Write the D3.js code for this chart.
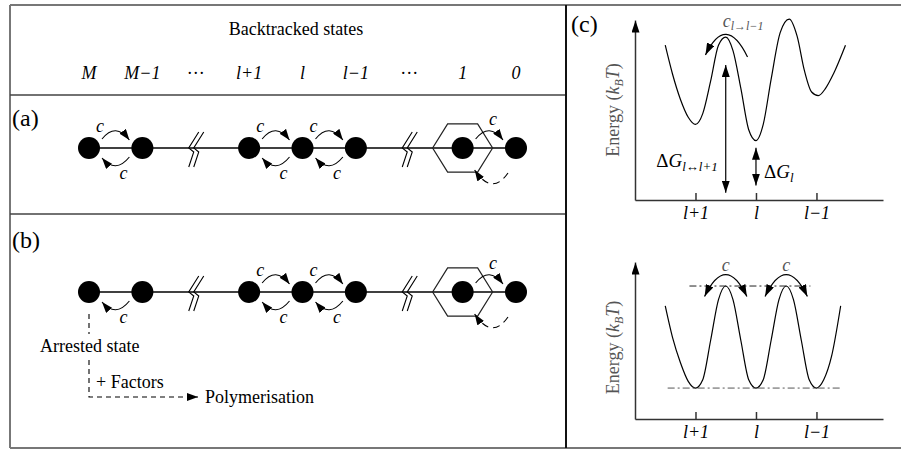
<!DOCTYPE html>
<html>
<head>
<meta charset="utf-8">
<script src="https://cdn.jsdelivr.net/npm/d3@7"></script>
<style>
  body { margin: 0; background: #fff; }
  svg { display: block; font-family: "Liberation Serif", "Times New Roman", serif; }
</style>
</head>
<body>
<div id="fig"></div>
<script>
// ---- left panel: backtracked states ----
const stateKeys = ['M', 'M-1', 'gap1', 'l+1', 'l', 'l-1', 'gap2', '1', '0'];
const stateLabels = ['M', 'M\u22121', '\u00b7\u00b7\u00b7', 'l+1', 'l', 'l\u22121', '\u00b7\u00b7\u00b7', '1', '0'];
const nodeStates = ['M', 'M-1', 'l+1', 'l', 'l-1', '1', '0'];
const breakStates = ['gap1', 'gap2'];

// transitions per row: fwd = arrow over the top, back = arrow underneath, reset = dashed return
const rowA = [
  { from: 'M', to: 'M-1', fwd: true, back: true },
  { from: 'l+1', to: 'l', fwd: true, back: true },
  { from: 'l', to: 'l-1', fwd: true, back: true },
  { from: '1', to: '0', fwd: true, back: false, reset: true }
];
const rowB = [
  { from: 'M', to: 'M-1', fwd: false, back: true },
  { from: 'l+1', to: 'l', fwd: true, back: true },
  { from: 'l', to: 'l-1', fwd: true, back: true },
  { from: '1', to: '0', fwd: true, back: false, reset: true }
];

// ---- right panel: energy landscapes ----
const tickCoords = [0, 1, 2];
const tickLabels = ['l+1', 'l', 'l\u22121'];

const coordTop = [-0.5, -0.38, -0.25, -0.12, 0, 0.12, 0.25, 0.38, 0.5, 0.62, 0.75, 0.88, 1,
  1.12, 1.25, 1.4, 1.55, 1.68, 1.8, 1.92, 2.03, 2.15, 2.28, 2.48];
const energyTop = [8.6, 7.0, 5.6, 4.6, 4.2, 4.8, 6.6, 8.6, 9.05, 8.3, 6.2, 3.9, 3.3,
  4.2, 6.7, 9.3, 10.05, 9.1, 7.2, 6.0, 5.8, 6.2, 7.0, 8.6];

const coordBottom = [-0.5, -0.38, -0.25, -0.12, 0, 0.12, 0.25, 0.38, 0.5, 0.62, 0.75, 0.88, 1,
  1.12, 1.25, 1.38, 1.5, 1.62, 1.75, 1.88, 2, 2.12, 2.25, 2.4];
const energyBottom = [7.2, 5.2, 3.6, 2.4, 1.97, 2.5, 5.0, 7.6, 8.47, 7.6, 5.0, 2.5, 1.97,
  2.5, 5.0, 7.6, 8.47, 7.6, 5.0, 2.5, 1.97, 2.5, 4.0, 7.2];

const barrierLevel = 8.47, wellLevel = 1.97;
const barrierPeaks = [0.5, 1.5];

const W = 901, H = 451;
const svg = d3.select('#fig').append('svg').attr('width', W).attr('height', H);

const defs = svg.append('defs');
function marker(id, len, wid) {
  defs.append('marker')
    .attr('id', id)
    .attr('viewBox', `0 ${-wid / 2} ${len} ${wid}`)
    .attr('refX', len).attr('refY', 0)
    .attr('markerUnits', 'userSpaceOnUse')
    .attr('markerWidth', len).attr('markerHeight', wid)
    .attr('orient', 'auto-start-reverse')
    .append('path')
    .attr('d', `M0,${-wid / 2}L${len},0L0,${wid / 2}Z`)
    .attr('fill', '#000');
}
marker('head', 11, 8);
marker('headBig', 12, 8);

// frame
const frame = svg.append('g').attr('fill', 'none');
frame.append('path').attr('d', 'M10,5H901M10,5V448M10,448H901')
  .attr('stroke', '#777').attr('stroke-width', 2);
frame.append('path').attr('d', 'M10,95H566M10,214H566')
  .attr('stroke', '#444').attr('stroke-width', 1.5);
frame.append('path').attr('d', 'M566,5V448')
  .attr('stroke', '#111').attr('stroke-width', 2);

// ---- left panel ----
const x = d3.scalePoint().domain(stateKeys).range([89, 516]);

svg.append('text').attr('x', 296).attr('y', 35).attr('text-anchor', 'middle')
  .attr('font-size', 18).text('Backtracked states');

svg.append('g').selectAll('text').data(stateKeys).join('text')
  .attr('x', d => x(d)).attr('y', 79).attr('text-anchor', 'middle')
  .attr('font-size', 18)
  .attr('font-style', (d, i) => stateLabels[i].startsWith('\u00b7') ? 'normal' : 'italic')
  .text((d, i) => stateLabels[i]);

svg.append('text').attr('x', 12).attr('y', 126).attr('font-size', 24).text('(a)');
svg.append('text').attr('x', 12).attr('y', 248).attr('font-size', 24).text('(b)');

const R = 11;

function drawRow(y, transitions) {
  const g = svg.append('g');
  g.append('line')
    .attr('x1', x('M')).attr('x2', x('0')).attr('y1', y).attr('y2', y)
    .attr('stroke', '#000').attr('stroke-width', 1.4);

  // break symbols
  const zig = d3.line();
  breakStates.forEach(b => {
    [0, 5].forEach(off => {
      const cx = x(b) - 2 + off;
      g.append('path')
        .attr('d', zig([[cx + 5, y - 16], [cx - 5, y], [cx, y + 4], [cx - 5, y + 19]]))
        .attr('fill', 'none').attr('stroke', '#000').attr('stroke-width', 1.1);
    });
  });

  // hexagon around the last backtracked state
  const hx = x('1'), hr = 30;
  const hex = d3.range(6).map(k => [hx + hr * Math.cos(k * Math.PI / 3), y + hr * 0.93 * Math.sin(k * Math.PI / 3)]);
  g.append('path').attr('d', d3.line()(hex) + 'Z')
    .attr('fill', 'none').attr('stroke', '#222').attr('stroke-width', 1.2);

  g.selectAll('circle').data(nodeStates).join('circle')
    .attr('cx', d => x(d)).attr('cy', y).attr('r', R).attr('fill', '#000');

  transitions.forEach(t => {
    const x1 = x(t.from), x2 = x(t.to), mid = (x1 + x2) / 2;
    if (t.fwd) {
      g.append('path')
        .attr('d', `M${x1 + 13},${y - 9}Q${mid},${y - 26} ${x2 - 13},${y - 8}`)
        .attr('fill', 'none').attr('stroke', '#000').attr('stroke-width', 1.1)
        .attr('marker-end', 'url(#head)');
      const lx = t.reset ? x2 - 23 : x1 + 11;
      const ly = t.reset ? y - 23 : y - 16;
      g.append('text').attr('x', lx).attr('y', ly).attr('text-anchor', 'middle')
        .attr('font-size', 18).attr('font-style', 'italic').text('c');
    }
    if (t.back) {
      g.append('path')
        .attr('d', `M${x2 - 13},${y + 9}Q${mid},${y + 26} ${x1 + 13},${y + 10}`)
        .attr('fill', 'none').attr('stroke', '#000').attr('stroke-width', 1.1)
        .attr('marker-end', 'url(#head)');
      g.append('text').attr('x', x2 - 19).attr('y', y + 31).attr('text-anchor', 'middle')
        .attr('font-size', 18).attr('font-style', 'italic').text('c');
    }
    if (t.reset) {
      g.append('path')
        .attr('d', `M${x2 - 8},${y + 25}Q${x2 - 24},${y + 48} ${x1 + 12},${y + 22}`)
        .attr('fill', 'none').attr('stroke', '#000').attr('stroke-width', 1.1)
        .attr('stroke-dasharray', '7,5')
        .attr('marker-end', 'url(#head)');
    }
  });
  return g;
}

drawRow(148, rowA);
const gb = drawRow(292, rowB);

// arrested state branch
const ax = x('M'), ay = 292;
gb.append('path')
  .attr('d', `M${ax},${ay + 22}V${ay + 42}M${ax},${ay + 68}V${ay + 105}H198`)
  .attr('fill', 'none').attr('stroke', '#000').attr('stroke-width', 1.1)
  .attr('stroke-dasharray', '5,4').attr('marker-end', 'url(#head)');
gb.append('text').attr('x', 40).attr('y', ay + 60).attr('font-size', 18).text('Arrested state');
gb.append('text').attr('x', 96).attr('y', ay + 96).attr('font-size', 18).text('+ Factors');
gb.append('text').attr('x', 205).attr('y', ay + 111).attr('font-size', 18).text('Polymerisation');

// ---- right panel ----
svg.append('text').attr('x', 571).attr('y', 32).attr('font-size', 24).text('(c)');

const u = d3.scaleLinear().domain([-1, 3.1]).range([635, 883]);

function energyPlot(yScale, coords, energies, labelShift) {
  const g = svg.append('g');
  const xa = g.append('g').attr('transform', `translate(0,${yScale(0)})`)
    .call(d3.axisBottom(u).tickValues(tickCoords).tickFormat((d, i) => tickLabels[i])
      .tickSize(-7).tickSizeOuter(0).tickPadding(6));
  xa.selectAll('path,line').attr('stroke', '#333').attr('stroke-width', 1.5);
  xa.selectAll('text').attr('font-family', null).attr('font-size', 18)
    .attr('font-style', 'italic').attr('fill', '#000');
  xa.attr('font-family', null).attr('font-size', null);

  const ya = g.append('g').attr('transform', `translate(${u(-1)},0)`)
    .call(d3.axisLeft(yScale).tickValues([]).tickSizeOuter(0));
  ya.select('.domain').attr('stroke', '#333').attr('stroke-width', 1.5)
    .attr('marker-end', 'url(#headBig)');

  const line = d3.line().x(d => u(d[0])).y(d => yScale(d[1])).curve(d3.curveMonotoneX);
  g.append('path').attr('d', line(d3.zip(coords, energies)))
    .attr('fill', 'none').attr('stroke', '#000').attr('stroke-width', 1.2);

  const mid = (yScale.range()[0] + yScale.range()[1]) / 2 + labelShift;
  const lab = g.append('text').attr('transform', `translate(619,${mid}) rotate(-90)`)
    .attr('text-anchor', 'middle').attr('font-size', 18).attr('fill', '#555');
  lab.append('tspan').text('Energy (');
  lab.append('tspan').attr('font-style', 'italic').text('k');
  lab.append('tspan').attr('font-style', 'italic').attr('font-size', 12).attr('dy', 4).text('B');
  lab.append('tspan').attr('font-style', 'italic').attr('dy', -4).text('T');
  lab.append('tspan').text(')');
  return g;
}

// top landscape
const yTop = d3.scaleLinear().domain([0, 10]).range([200, 20]);
const gt = energyPlot(yTop, coordTop, energyTop, 0);

// c_{l->l-1} arrow over the first barrier
gt.append('path')
  .attr('d', `M${u(0.86)},${yTop(7.95)}Q${u(0.5)},${yTop(10.4)} ${u(0.165)},${yTop(8.05)}`)
  .attr('fill', 'none').attr('stroke', '#000').attr('stroke-width', 1.2)
  .attr('marker-end', 'url(#headBig)');
const cl = gt.append('text').attr('x', u(0.45)).attr('y', 27).attr('font-size', 18).attr('fill', '#555');
cl.append('tspan').attr('font-style', 'italic').text('c');
cl.append('tspan').attr('font-style', 'italic').attr('font-size', 12).attr('dy', 3).text('l\u2192l\u22121');

// free energy differences
const dGs = [
  { at: 0.5, from: 0.4, to: 7.5, sub: 'l\u2194l+1', anchor: 'end', dx: -8, ly: 167 },
  { at: 1, from: 0.8, to: 2.9, sub: 'l', anchor: 'start', dx: 8, ly: 178 }
];
dGs.forEach(d => {
  gt.append('line')
    .attr('x1', u(d.at)).attr('x2', u(d.at)).attr('y1', yTop(d.from)).attr('y2', yTop(d.to))
    .attr('stroke', '#000').attr('stroke-width', 1.2)
    .attr('marker-start', 'url(#headBig)').attr('marker-end', 'url(#headBig)');
  const t = gt.append('text').attr('x', u(d.at) + d.dx).attr('y', d.ly)
    .attr('text-anchor', d.anchor).attr('font-size', 19);
  t.append('tspan').text('\u0394');
  t.append('tspan').attr('font-style', 'italic').text('G');
  t.append('tspan').attr('font-style', 'italic').attr('font-size', 13).attr('dy', 4).text(d.sub);
});

// bottom landscape
const yBot = d3.scaleLinear().domain([0, 10]).range([419, 262]);
const gbt = energyPlot(yBot, coordBottom, energyBottom, 7);

gbt.append('line').attr('x1', u(-0.1)).attr('x2', u(1.9))
  .attr('y1', yBot(barrierLevel)).attr('y2', yBot(barrierLevel))
  .attr('stroke', '#222').attr('stroke-width', 1).attr('stroke-dasharray', '7,3,2,3');
gbt.append('line').attr('x1', u(-0.46)).attr('x2', u(2.4))
  .attr('y1', yBot(wellLevel)).attr('y2', yBot(wellLevel))
  .attr('stroke', '#555').attr('stroke-width', 1).attr('stroke-dasharray', '7,3,2,3');

barrierPeaks.forEach(p => {
  gbt.append('path')
    .attr('d', `M${u(p - 0.35)},${yBot(7.8)}Q${u(p)},${yBot(10.6)} ${u(p + 0.35)},${yBot(7.8)}`)
    .attr('fill', 'none').attr('stroke', '#000').attr('stroke-width', 1.2)
    .attr('marker-start', 'url(#headBig)').attr('marker-end', 'url(#headBig)');
  gbt.append('text').attr('x', u(p)).attr('y', 271).attr('text-anchor', 'middle')
    .attr('font-size', 18).attr('font-style', 'italic').attr('fill', '#555').text('c');
});
</script>
</body>
</html>
